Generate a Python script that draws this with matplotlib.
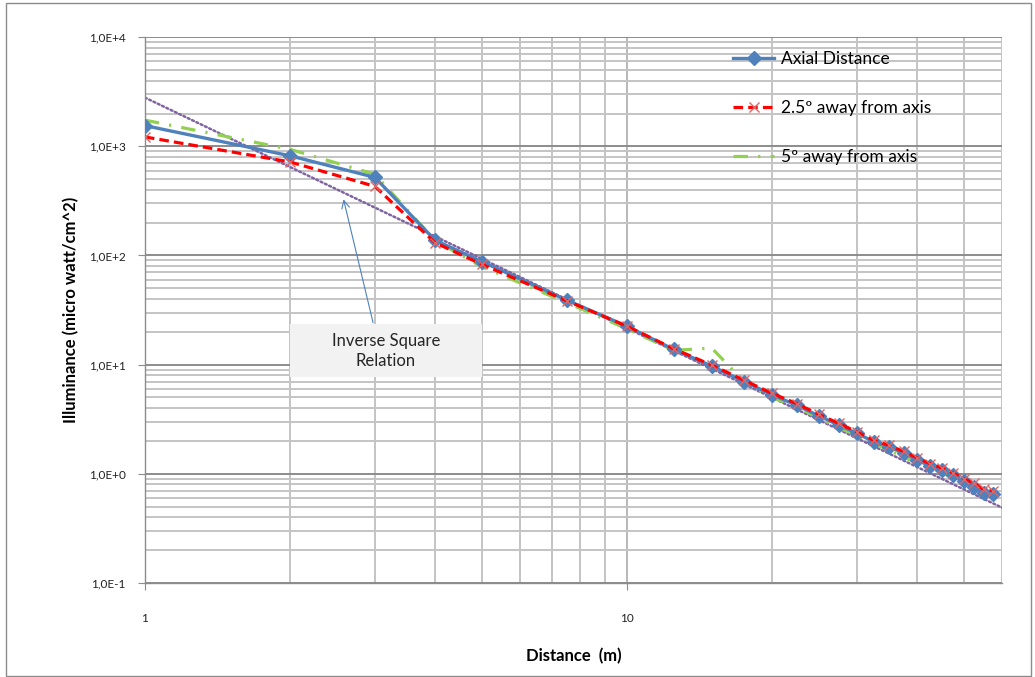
import matplotlib
matplotlib.use("Agg")
import matplotlib.pyplot as plt
from matplotlib.ticker import FixedLocator, FixedFormatter, LogLocator, NullFormatter
from matplotlib.patches import Rectangle

# ---------------- data ----------------
distance = [1, 2, 3, 4, 5, 7.5, 10, 12.5, 15, 17.5, 20, 22.5, 25, 27.5, 30,
            32.5, 35, 37.5, 40, 42.5, 45, 47.5, 50, 52.5, 55, 57.5]
axial = [1550, 820, 520, 138, 88, 39, 22.5, 13.8, 9.7, 7.0, 5.3, 4.25, 3.4,
         2.8, 2.35, 1.97, 1.76, 1.55, 1.34, 1.18, 1.08, 0.97, 0.85, 0.76,
         0.66, 0.65]
away_2_5 = [1220, 720, 430, 131, 83, 38.5, 22.5, 14.0, 9.9, 7.2, 5.45, 4.4,
            3.5, 2.9, 2.42, 2.03, 1.82, 1.6, 1.4, 1.24, 1.13, 1.02, 0.9,
            0.82, 0.72, 0.7]
away_5 = [1740, 940, 555, 137, 79, 37, 21.3, 13.5, 14.2, 7.0, 5.0, 4.1, 3.25,
          2.65, 2.25, 1.88, 1.65, 1.42, 1.26, 1.12, 1.02, 0.92, 0.82, 0.74,
          0.64, 0.58]
trend_x = [1, 60]
trend_y = [2800, 0.49]

series_labels = ["Axial Distance", "2.5\u00ba away from axis", "5\u00ba away from axis"]
y_ticks = [0.1, 1, 10, 100, 1000, 10000]
y_tick_labels = ["1,0E-1", "1,0E+0", "1,0E+1", "1,0E+2", "1,0E+3", "1,0E+4"]
x_ticks = [1, 10]
x_tick_labels = ["1", "10"]
x_label = "Distance  (m)"
y_label = "Illuminance (micro watt/cm^2)"
note_text = "Inverse Square\nRelation"

# ---------------- figure ----------------
plt.rcParams['font.family'] = ['Lato', 'DejaVu Sans']
fig = plt.figure(figsize=(10.35, 6.77), dpi=100)
fig.patches.append(Rectangle((0.006, 0.002), 0.99, 0.994, transform=fig.transFigure,
                             fill=False, edgecolor='#8c8c8c', lw=1.0))
ax = fig.add_axes([0.140, 0.139, 0.828, 0.806])
ax.set_xscale('log')
ax.set_yscale('log')
ax.set_xlim(1, 60)
ax.set_ylim(0.1, 10000)

# grid
ax.xaxis.set_major_locator(FixedLocator(x_ticks))
ax.xaxis.set_major_formatter(FixedFormatter(x_tick_labels))
ax.xaxis.set_minor_locator(LogLocator(base=10, subs=range(2, 10)))
ax.xaxis.set_minor_formatter(NullFormatter())
ax.yaxis.set_major_locator(FixedLocator(y_ticks))
ax.yaxis.set_major_formatter(FixedFormatter(y_tick_labels))
ax.yaxis.set_minor_locator(LogLocator(base=10, subs=range(2, 10)))
ax.yaxis.set_minor_formatter(NullFormatter())

ax.grid(which='minor', axis='both', color='#c4c4c4', lw=1.4, zorder=0)
ax.grid(which='major', axis='y', color='#8c8c8c', lw=1.4, zorder=0)
ax.grid(which='major', axis='x', color='#b8b8b8', lw=1.4, zorder=0)
ax.set_axisbelow(True)

for s in ['top', 'right']:
    ax.spines[s].set_visible(False)
for s in ['left', 'bottom']:
    ax.spines[s].set_color('#8c8c8c')
    ax.spines[s].set_linewidth(1.0)

ax.tick_params(axis='y', which='major', length=5, color='#8c8c8c', pad=9,
               labelsize=8.5, labelcolor='#222222')
ax.tick_params(axis='x', which='major', length=5, color='#8c8c8c', pad=17,
               labelsize=8.5, labelcolor='#222222')
ax.tick_params(which='minor', length=0)

# series
ax.plot(trend_x, trend_y, color='#8064A2', lw=1.8, linestyle=(0, (0.8, 1.1)),
        dash_capstyle='round', zorder=2)
ax.plot(distance, away_5, color='#92D050', lw=2.3,
        linestyle=(0, (4.5, 3.2, 0.7, 3.2)), zorder=3, label=series_labels[2])
ax.plot(distance, axial, color='#4F81BD', lw=2.4, zorder=4,
        marker='D', markersize=7, markerfacecolor='#4F81BD',
        markeredgecolor='#4F81BD', label=series_labels[0])
ax.plot(distance, away_2_5, color='#FF0000', lw=2.3,
        linestyle=(0, (3, 1.6)), zorder=5, marker='x', markersize=7.5,
        markeredgecolor='#E06666', markeredgewidth=1.0,
        label=series_labels[1])

handles, labels = ax.get_legend_handles_labels()
order = [labels.index(l) for l in series_labels]
ax.legend([handles[i] for i in order], [labels[i] for i in order],
          loc='upper left', bbox_to_anchor=(0.686, 0.975), frameon=False,
          fontsize=12.5, labelspacing=1.9, handlelength=2.4,
          handletextpad=0.35, borderpad=0, borderaxespad=0)

# annotation
ax.add_patch(Rectangle((0.169, 0.377), 0.224, 0.097, transform=ax.transAxes,
                       facecolor='#f2f2f2', edgecolor='none', zorder=6))
ax.text(0.281, 0.425, note_text, transform=ax.transAxes, ha='center', va='center',
        fontsize=12, color='#262626', linespacing=1.35, zorder=7)
ax.annotate('', xy=(0.231, 0.708), xycoords='axes fraction',
            xytext=(0.267, 0.472), textcoords='axes fraction',
            arrowprops=dict(arrowstyle='->', color='#4F81BD', lw=0.8,
                            mutation_scale=14), zorder=7)

ax.set_xlabel(x_label, fontsize=12, fontweight='bold', labelpad=17)
ax.set_ylabel(y_label, fontsize=12, fontweight='bold', labelpad=7)

fig.savefig('out.png', dpi=100)
